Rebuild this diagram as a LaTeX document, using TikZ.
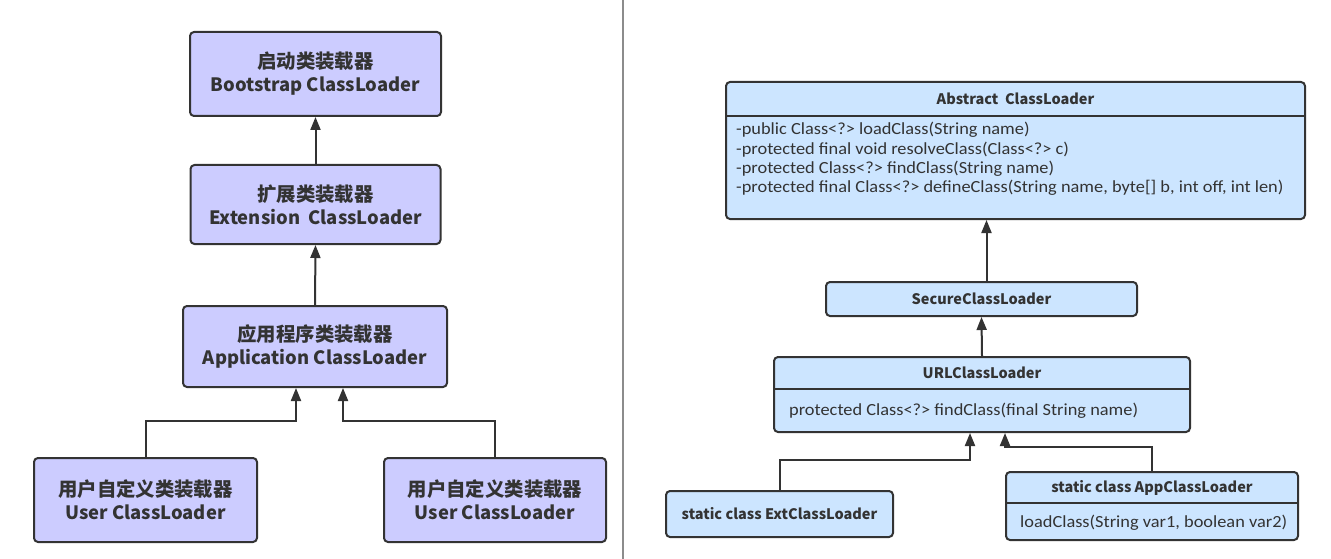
\documentclass[tikz,border=0pt]{standalone}
\usepackage{fontspec}
\newfontfamily\cjk{Noto Sans CJK SC}
\newfontfamily\mfont{Carlito}[FakeStretch=1.08]
\usetikzlibrary{arrows.meta}
\definecolor{lav}{HTML}{CCCCFF}
\definecolor{lblue}{HTML}{CCE5FF}
\definecolor{ink}{HTML}{333333}
\newcommand{\zh}[1]{{\fontsize{19.4}{23}\selectfont #1}}
\tikzset{
  lbox/.style={draw=ink, line width=2pt, rounded corners=4pt, fill=lav, align=center,
    text=ink, font=\cjk\bfseries\fontsize{18.4}{23}\selectfont, inner sep=0pt},
  rbox/.style={draw=ink, line width=2pt, rounded corners=4pt, fill=lblue, inner sep=0pt},
  rtitle/.style={text=ink, font=\cjk\bfseries\fontsize{14.5}{18}\selectfont, inner sep=0pt},
  rmeth/.style={text=ink, font=\mfont\fontsize{17}{19.4}\selectfont, align=left, inner sep=0pt},
  sep/.style={draw=ink, line width=1.6pt},
  arr/.style={draw=ink, line width=2pt, -{Triangle[length=13pt,width=10pt]}},
}
\begin{document}
\begin{tikzpicture}[x=1pt,y=-1pt]
\useasboundingbox[fill=white] (0,0) rectangle (1331,559);
% divider
\draw[color=gray!90, line width=1.5pt] (623,0) -- (623,559);
% left side
\node[lbox, minimum width=251pt, minimum height=84pt] (boot) at (315.5,74) {\zh{启动类装载器}\\Bootstrap ClassLoader};
\node[lbox, minimum width=250pt, minimum height=79pt] (ext) at (315.5,204.5) {\zh{扩展类装载器}\\Extension\ \ ClassLoader};
\node[lbox, minimum width=264pt, minimum height=81pt] (app) at (315,346.5) {\zh{应用程序类装载器}\\Application ClassLoader};
\node[lbox, minimum width=223pt, minimum height=84pt] (u1) at (145.5,500) {\zh{用户自定义类装载器}\\User ClassLoader};
\node[lbox, minimum width=222pt, minimum height=84pt] (u2) at (495,500) {\zh{用户自定义类装载器}\\User ClassLoader};
\draw[arr] (ext.north) -- (boot.south);
\draw[arr] (app.north) -- (ext.south);
\draw[arr] (u1.north) -- ++(0,-36) -| ([xshift=-19pt]app.south);
\draw[arr] (u2.north) -- ++(0,-36) -| ([xshift=28pt]app.south);
% right side
\node[rbox, minimum width=579pt, minimum height=137pt] (abs) at (1015.5,150.5) {};
\draw[sep] (abs.west |- 0,116) -- (abs.east |- 0,116);
\node[rtitle] (abst) at (1015.5,99) {Abstract\ \ ClassLoader};
\node[rmeth, anchor=north west] (absm) at (736,122) {-public Class<?> loadClass(String name)\\-protected final void resolveClass(Class<?> c)\\-protected Class<?> findClass(String name)\\-protected final Class<?> defineClass(String name, byte[] b, int off, int len)};
\node[rbox, minimum width=311pt, minimum height=34pt] (sec) at (981.5,299) {};
\node[rtitle] (sect) at (sec.center) {SecureClassLoader};
\node[rbox, minimum width=416pt, minimum height=75pt] (url) at (982,394.5) {};
\draw[sep] (url.west |- 0,389) -- (url.east |- 0,389);
\node[rtitle] (urlt) at (982,373) {URLClassLoader};
\node[rmeth, anchor=west] (urlm) at (789,411) {protected Class<?> findClass(final String name)};
\node[rbox, minimum width=227pt, minimum height=46pt] (ecl) at (779.5,514) {};
\node[rtitle] (eclt) at (ecl.center) {static class ExtClassLoader};
\node[rbox, minimum width=292pt, minimum height=68pt] (acl) at (1152,506) {};
\draw[sep] (acl.west |- 0,503) -- (acl.east |- 0,503);
\node[rtitle] (aclt) at (1152,488) {static class AppClassLoader};
\node[rmeth, anchor=west] (aclm) at (1020,523) {loadClass(String var1, boolean var2)};
\draw[arr] ([xshift=5pt]sec.north) -- ([xshift=5pt]sec.north |- abs.south);
\draw[arr] (url.north) -- (sec.south);
\draw[arr] (ecl.north) -- ++(0,-30) -| ([xshift=-12pt]url.south);
\draw[arr] (acl.north) -- ++(0,-24) -| ([xshift=23pt]url.south);
\end{tikzpicture}
\end{document}
